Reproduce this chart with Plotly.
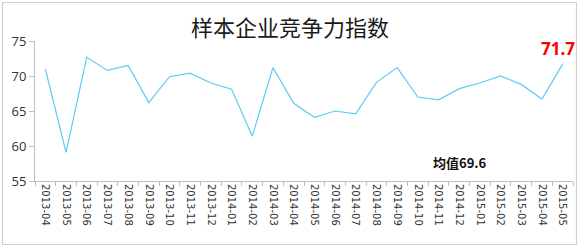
import plotly.graph_objects as go

months = ["2013-04","2013-05","2013-06","2013-07","2013-08","2013-09","2013-10","2013-11","2013-12",
          "2014-01","2014-02","2014-03","2014-04","2014-05","2014-06","2014-07","2014-08","2014-09",
          "2014-10","2014-11","2014-12","2015-01","2015-02","2015-03","2015-04","2015-05"]
index_values = [71.0, 59.1, 72.7, 70.8, 71.5, 66.2, 69.9, 70.4, 69.0,
                68.1, 61.4, 71.2, 66.1, 64.1, 65.0, 64.6, 69.1, 71.2,
                67.0, 66.6, 68.2, 69.0, 70.0, 68.8, 66.7, 71.7]
y_ticks = [55, 60, 65, 70, 75]
title_text = "样本企业竞争力指数"
mean_label = "均值69.6"

W, H = 580, 247
ml, mr, mt, mb = 35, 7, 41, 66
pw, ph = W - ml - mr, H - mt - mb

def px_x(x):
    return (x - ml) / pw

def px_y(y):
    return 1 - (y - mt) / ph

fig = go.Figure()
fig.add_trace(go.Scatter(
    x=months, y=index_values, mode="lines",
    line=dict(color="#5ECBF5", width=1.2),
    hoverinfo="skip", showlegend=False,
))

font_cjk = "Noto Sans CJK SC"
fig.update_layout(
    width=W, height=H,
    margin=dict(l=ml, r=mr, t=mt, b=mb),
    paper_bgcolor="white", plot_bgcolor="white",
    title=dict(text=title_text, x=0.5, xanchor="center", y=1 - 28 / H, yanchor="middle",
               font=dict(family=font_cjk, size=22, color="#1a1a1a")),
    xaxis=dict(type="category", tickson="boundaries", ticks="outside", ticklen=4,
               tickcolor="#bfbfbf", showline=True, linecolor="#bfbfbf", linewidth=1,
               showgrid=False, tickangle=90,
               tickfont=dict(family="DejaVu Sans", size=10, color="#333333"),
               range=[-0.5, len(months) - 0.5]),
    yaxis=dict(range=[55, 75], tickvals=y_ticks, ticks="outside", ticklen=5,
               tickcolor="#bfbfbf", showline=True, linecolor="#bfbfbf", linewidth=1,
               showgrid=False, zeroline=False,
               tickfont=dict(family="Open Sans", size=13, color="#333333")),
)

# frame
fig.add_shape(type="rect", xref="paper", yref="paper",
              x0=px_x(2.5), x1=px_x(576.5), y0=px_y(244.5), y1=px_y(2.5),
              line=dict(color="#cfcfcf", width=1.2), layer="below")

fig.add_annotation(x=months[-1], y=index_values[-1], text="<b>71.7</b>", showarrow=False,
                   xanchor="center", yanchor="middle", yshift=16, xshift=-5,
                   font=dict(family="Open Sans", size=17, color="#ff0000"))
fig.add_annotation(xref="paper", yref="paper", x=px_x(459.5), y=px_y(162),
                   xanchor="center", yanchor="middle",
                   text="<b>" + mean_label + "</b>", showarrow=False,
                   font=dict(family=font_cjk, size=13, color="#111111"))

fig.write_html("out.html")
